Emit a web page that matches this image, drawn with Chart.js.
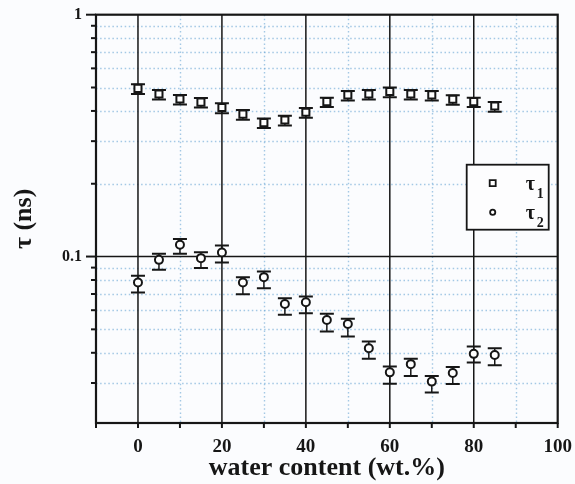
<!DOCTYPE html>
<html>
<head>
<meta charset="utf-8">
<script src="https://cdn.jsdelivr.net/npm/chart.js@4/dist/chart.umd.min.js"></script>
<style>
  html, body { margin: 0; padding: 0; background: #fbfcfe; }
  #wrap { width: 575px; height: 484px; position: relative; }
</style>
</head>
<body>
<div id="wrap"><canvas id="chart" width="575" height="484"></canvas></div>
<script>
// Water content of the samples (wt.%)
const waterContent = [0, 5, 10, 15, 20, 25, 30, 35, 40, 45, 50, 55, 60, 65, 70, 75, 80, 85];

// Long lifetime component tau1 (ns) with error bar extents
const tau1 = [0.496, 0.470, 0.448, 0.435, 0.413, 0.388, 0.358, 0.367, 0.395, 0.437, 0.466, 0.470, 0.481, 0.470, 0.466, 0.447, 0.437, 0.419];
const tau1ErrUp   = [0.020, 0.018, 0.018, 0.017, 0.017, 0.016, 0.014, 0.015, 0.016, 0.017, 0.018, 0.018, 0.019, 0.018, 0.018, 0.018, 0.017, 0.017];
const tau1ErrDown = [0.026, 0.024, 0.023, 0.022, 0.022, 0.020, 0.018, 0.019, 0.020, 0.022, 0.024, 0.024, 0.025, 0.024, 0.024, 0.023, 0.022, 0.022];

// Short lifetime component tau2 (ns) with error bar extents
const tau2 = [0.0781, 0.0969, 0.1118, 0.0985, 0.1039, 0.0781, 0.0822, 0.0637, 0.0647, 0.0547, 0.0526, 0.0418, 0.0332, 0.0359, 0.0304, 0.0330, 0.0396, 0.0392];
const tau2ErrUp   = [0.0051, 0.0057, 0.0065, 0.0058, 0.0071, 0.0041, 0.0045, 0.0036, 0.0037, 0.0033, 0.0027, 0.0027, 0.0019, 0.0019, 0.0017, 0.0019, 0.0029, 0.0026];
const tau2ErrDown = [0.0071, 0.0088, 0.0092, 0.0089, 0.0094, 0.0082, 0.0082, 0.0063, 0.0064, 0.0057, 0.0059, 0.0040, 0.0034, 0.0038, 0.0030, 0.0033, 0.0031, 0.0037];

// Axis ticks and grid lines
const xTicks = [-10, 0, 10, 20, 30, 40, 50, 60, 70, 80, 90, 100];
const xLabelled = [0, 20, 40, 60, 80, 100];
const xMajorGrid = [0, 20, 40, 60, 80];
const xMinorGrid = [10, 30, 50, 70, 90];
const yMajorTicks = [0.1, 1];
const yMinorTicks = [0.03, 0.04, 0.05, 0.06, 0.07, 0.08, 0.09, 0.2, 0.3, 0.4, 0.5, 0.6, 0.7, 0.8, 0.9];
const yMajorGrid = [0.1];

const INK = '#161616';
const DOT = 'rgba(105, 165, 212, 0.6)';
const SERIF = '"Liberation Serif", "DejaVu Serif", serif';

// Grid, frame, tick marks and error bars, drawn behind the markers
const framePlugin = {
  id: 'frame',
  beforeDatasetsDraw(chart) {
    const { ctx, chartArea: a, scales: { x, y } } = chart;
    ctx.save();

    // dotted minor grid
    ctx.strokeStyle = DOT;
    ctx.lineWidth = 1.4;
    ctx.setLineDash([1.5, 2.6]);
    xMinorGrid.forEach(v => {
      const px = Math.round(x.getPixelForValue(v)) + 0.5;
      ctx.beginPath(); ctx.moveTo(px, a.top); ctx.lineTo(px, a.bottom); ctx.stroke();
    });
    yMinorTicks.forEach(v => {
      const py = Math.round(y.getPixelForValue(v)) + 0.5;
      ctx.beginPath(); ctx.moveTo(a.left, py); ctx.lineTo(a.right, py); ctx.stroke();
    });
    ctx.setLineDash([]);

    // solid major grid
    ctx.strokeStyle = INK;
    ctx.lineWidth = 1.5;
    xMajorGrid.forEach(v => {
      const px = x.getPixelForValue(v);
      ctx.beginPath(); ctx.moveTo(px, a.top); ctx.lineTo(px, a.bottom); ctx.stroke();
    });
    yMajorGrid.forEach(v => {
      const py = y.getPixelForValue(v);
      ctx.beginPath(); ctx.moveTo(a.left, py); ctx.lineTo(a.right, py); ctx.stroke();
    });

    // frame
    ctx.lineWidth = 2.2;
    ctx.strokeRect(a.left, a.top, a.right - a.left, a.bottom - a.top);

    // tick marks
    ctx.lineWidth = 2;
    xTicks.forEach(v => {
      const px = x.getPixelForValue(v);
      ctx.beginPath(); ctx.moveTo(px, a.bottom); ctx.lineTo(px, a.bottom + 5); ctx.stroke();
    });
    yMinorTicks.forEach(v => {
      const py = y.getPixelForValue(v);
      ctx.beginPath(); ctx.moveTo(a.left - 5, py); ctx.lineTo(a.left, py); ctx.stroke();
    });
    yMajorTicks.forEach(v => {
      const py = y.getPixelForValue(v);
      ctx.beginPath(); ctx.moveTo(a.left - 10, py); ctx.lineTo(a.left, py); ctx.stroke();
    });

    // error bars
    chart.data.datasets.forEach(ds => {
      ds.data.forEach((p, i) => {
        const px = x.getPixelForValue(p.x);
        const top = y.getPixelForValue(p.y + ds.errUp[i]);
        const bot = y.getPixelForValue(p.y - ds.errDown[i]);
        ctx.lineWidth = 1.5;
        ctx.beginPath(); ctx.moveTo(px, top); ctx.lineTo(px, bot); ctx.stroke();
        ctx.lineWidth = 2;
        ctx.beginPath();
        ctx.moveTo(px - 7, top); ctx.lineTo(px + 7, top);
        ctx.moveTo(px - 7, bot); ctx.lineTo(px + 7, bot);
        ctx.stroke();
      });
    });
    ctx.restore();
  },
  afterDraw(chart) {
    // boxed legend with subscripted symbols
    const { ctx, chartArea: a } = chart;
    const bx = a.right - 91, by = a.top + 150, bw = 82, bh = 65;
    ctx.save();
    ctx.fillStyle = '#fdfdfe';
    ctx.fillRect(bx, by, bw, bh);
    ctx.strokeStyle = INK;
    ctx.lineWidth = 1.8;
    ctx.strokeRect(bx, by, bw, bh);
    chart.data.datasets.forEach((ds, i) => {
      const cy = by + 18.5 + i * 29;
      const cx = bx + 26;
      ctx.lineWidth = 1.8;
      ctx.fillStyle = '#fff';
      ctx.beginPath();
      if (ds.pointStyle === 'rect') { ctx.rect(cx - 3, cy - 3, 6, 6); }
      else { ctx.arc(cx, cy, 2.6, 0, Math.PI * 2); }
      ctx.fill(); ctx.stroke();
      ctx.fillStyle = INK;
      ctx.textBaseline = 'alphabetic';
      ctx.font = 'bold 20px ' + SERIF;
      ctx.fillText('τ', bx + 59, cy + 7);
      ctx.font = 'bold 14px ' + SERIF;
      ctx.fillText(ds.sub, bx + 70, cy + 15);
    });
    ctx.restore();
  }
};

new Chart(document.getElementById('chart'), {
  type: 'scatter',
  data: {
    datasets: [
      {
        label: 'τ1', sub: '1',
        data: waterContent.map((v, i) => ({ x: v, y: tau1[i] })),
        errUp: tau1ErrUp, errDown: tau1ErrDown,
        pointStyle: 'rect', pointRadius: 5, pointHoverRadius: 5,
        backgroundColor: '#ffffff', borderColor: INK, borderWidth: 2
      },
      {
        label: 'τ2', sub: '2',
        data: waterContent.map((v, i) => ({ x: v, y: tau2[i] })),
        errUp: tau2ErrUp, errDown: tau2ErrDown,
        pointStyle: 'circle', pointRadius: 4, pointHoverRadius: 4,
        backgroundColor: '#ffffff', borderColor: INK, borderWidth: 2
      }
    ]
  },
  options: {
    responsive: false,
    animation: false,
    events: [],
    layout: { padding: { left: 0, right: 17.3, top: 14.7, bottom: 0 } },
    plugins: { legend: { display: false }, tooltip: { enabled: false } },
    scales: {
      x: {
        type: 'linear', min: -10, max: 100,
        afterBuildTicks: s => { s.ticks = xTicks.map(v => ({ value: v })); },
        afterFit: s => { s.height = 61; s.paddingLeft = 0; s.paddingRight = 0; },
        grid: { display: false, drawTicks: false },
        border: { display: false },
        ticks: {
          autoSkip: false, maxRotation: 0, padding: 13, color: INK,
          font: { family: SERIF, size: 19, weight: 'bold' },
          callback: v => xLabelled.includes(v) ? String(v) : ''
        },
        title: {
          display: true, text: 'water content (wt.%)', color: INK,
          font: { family: SERIF, size: 26, weight: 'bold' },
          padding: { top: -4, bottom: 0 }
        }
      },
      y: {
        type: 'logarithmic', min: 0.0205, max: 1,
        afterBuildTicks: s => { s.ticks = yMajorTicks.concat(yMinorTicks).map(v => ({ value: v })); },
        afterFit: s => { s.width = 96; s.paddingTop = 0; s.paddingBottom = 0; },
        grid: { display: false, drawTicks: false },
        border: { display: false },
        ticks: {
          autoSkip: false, padding: 14, color: INK,
          font: { family: SERIF, size: 16, weight: 'bold' },
          callback: v => yMajorTicks.includes(v) ? String(v) : ''
        },
        title: {
          display: true, text: 'τ (ns)', color: INK,
          font: { family: SERIF, size: 26, weight: 'bold' },
          padding: { top: 9, bottom: 0 }
        }
      }
    }
  },
  plugins: [framePlugin]
});
</script>
</body>
</html>
